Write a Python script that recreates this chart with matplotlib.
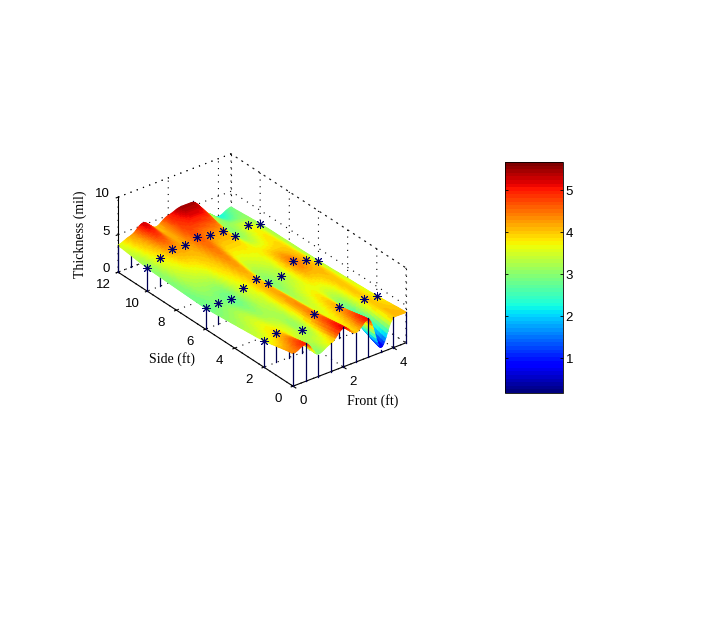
import numpy as np
import matplotlib
matplotlib.use('Agg')
import matplotlib.pyplot as plt
from matplotlib.cm import ScalarMappable
from matplotlib.colors import Normalize

# values
front_ft = [0, 0.5, 1, 1.5, 2, 2.5, 3, 3.5, 4, 4.5]
side_ft = [0, 2, 6, 10, 12]

row_0 = [4.4, 5.1, 2.9, 3.8, 5.3, 3.9, 5.3, 0.3, 4.1, 4.1]
row_2 = [3.5, 3.9, 3.6, 3.0, 4.5, 3.6, 4.2, 2.6, 4.0, 3.7]
row_6 = [2.8, 2.9, 2.7, 3.6, 4.1, 2.9, 3.2, 4.6, 4.1, 3.3]
row_10 = [3.07, 3.76, 4.3, 4.2, 4.65, 4.3, 4.2, 2.9, 3.7, 3.2]
row_12 = [3.6, 4.2, 5.4, 4.0, 5.0, 5.6, 5.6, 3.4, 2.1, 2.9]

# which points of rows 2, 6, 10 show a star (the rest are under the surface)
star_2 = [0, 1, 3, 4, 6, 8, 9]
star_6 = list(range(10))
star_10 = list(range(10))

x_ticks = [0, 2, 4]
y_ticks = [0, 2, 4, 6, 8, 10, 12]
z_ticks = [0, 5, 10]
cbar_ticks = [1, 2, 3, 4, 5]
cbar_min = 0.17
cbar_max = 5.67

dots = (0, (1, 5))
plt.rcParams['grid.linestyle'] = dots
plt.rcParams['grid.color'] = 'k'
plt.rcParams['grid.linewidth'] = 0.8

thick = np.array([row_0, row_2, row_6, row_10, row_12])
fx = np.array(front_ft)
fy = np.array(side_ft)


def soften(a, width):
    # little box filter along the first axis, edges repeated
    pad = np.concatenate([a[:1].repeat(width, 0), a, a[-1:].repeat(width, 0)])
    kern = np.ones(2 * width + 1) / (2 * width + 1)
    return np.apply_along_axis(lambda v: np.convolve(v, kern, 'valid'), 0, pad)


# subdivide between table values only so the facets shade smoothly,
# mplot3d has no "shading interp"
yy = np.linspace(0, 12, 121)
z1 = np.array([np.interp(yy, fy, thick[:, c]) for c in range(10)]).T
z1 = soften(z1, 5)

xx = np.linspace(0, 4.5, 91)
cell = np.minimum((xx / 0.5).astype(int), 8)
t = xx / 0.5 - cell
s = 3 * t**2 - 2 * t**3
Z = z1[:, cell] * (1 - s) + z1[:, cell + 1] * s
Z = soften(Z.T, 2).T
X, Y = np.meshgrid(xx, yy)

fig = plt.figure(figsize=(7.23, 6.23), dpi=100)
ax = fig.add_axes([5.25 / 723, 96.25 / 623, 500 / 723, 500 / 623],
                  projection='3d', proj_type='ortho')
ax.patch.set_alpha(0)
ax.view_init(elev=30, azim=-127.5)
ax.set_box_aspect((142.4, 287.5, 86.6), zoom=0.645)
ax.computed_zorder = False
ax.set_xlim(0, 4.5)
ax.set_ylim(0, 12)
ax.set_zlim(0, 10)

cmap = plt.get_cmap('jet', 64)
norm = Normalize(cbar_min, cbar_max)

# stems behind the surface
for r, yv in enumerate(side_ft):
    for c, xv in enumerate(front_ft):
        zo = 3 if (c == 0 or yv == 0) else 1
        ax.plot([xv, xv], [yv, yv], [0, thick[r, c]], color='#000050', lw=0.9, zorder=zo)

surf = ax.plot_surface(X, Y, Z, cmap=cmap, norm=norm, rstride=1, cstride=1,
                       linewidth=0.9, antialiased=True, shade=False, zorder=2)
surf.set_edgecolor('face')

for r, idx in [(1, star_2), (2, star_6), (3, star_10)]:
    ax.plot(fx[idx], np.full(len(idx), side_ft[r]), thick[r, idx], ls='none',
            marker=(8, 2, 0), ms=6.5, mew=0.7, color='#000070', zorder=4)

# dotted box edges
xm, ym, zm = 4.5, 12, 10
for a, b in [((0, ym, zm), (xm, ym, zm)), ((xm, ym, zm), (xm, 0, zm)),
             ((xm, 0, 0), (xm, 0, zm)), ((xm, ym, 0), (xm, ym, zm)),
             ((0, ym, 0), (xm, ym, 0)), ((xm, ym, 0), (xm, 0, 0))]:
    ax.plot(*zip(a, b), color='k', ls=dots, lw=0.8, zorder=0)

ax.set_xticks(x_ticks)
ax.set_yticks(y_ticks)
ax.set_zticks(z_ticks)
for axis in (ax.xaxis, ax.yaxis, ax.zaxis):
    axis.set_pane_color((1, 1, 1, 0))
    axis.pane.set_edgecolor((1, 1, 1, 0))
    axis.line.set_color('k')
    axis.line.set_linewidth(0.8)
    for lab in axis.get_ticklabels():
        lab.set_visible(False)

# the built-in 3d tick labels can't be nudged, so they go in as text next to the ticks
tick_font = dict(family='Liberation Sans', fontsize=9.5, va='center')
for v in x_ticks:
    ax.text(v, -0.7, -1.1, str(v), ha='center', **tick_font)
for v in y_ticks:
    ax.text(-0.6, v, -1.0, str(v), ha='center', **tick_font)
for v in z_ticks:
    ax.text(0, 12.55, v - 0.3, str(v), ha='right', **tick_font)

fig.text(80 / 723, 1 - 234 / 623, 'Thickness (mil)', rotation=90, family='Liberation Serif',
         fontsize=10, ha='center', va='center')
fig.text(172 / 723, 1 - 359 / 623, 'Side (ft)', family='Liberation Serif',
         fontsize=10, ha='center', va='center')
fig.text(373 / 723, 1 - 401 / 623, 'Front (ft)', family='Liberation Serif',
         fontsize=10, ha='center', va='center')

cax = fig.add_axes([505 / 723, 1 - 393 / 623, 58 / 723, 231 / 623])
cb = fig.colorbar(ScalarMappable(norm=norm, cmap=cmap), cax=cax)
cb.set_ticks(cbar_ticks)
cb.ax.tick_params(direction='in', length=2, width=0.6, left=True, right=True, labelsize=9.5, pad=2)
cb.outline.set_linewidth(0.6)
for lab in cb.ax.get_yticklabels():
    lab.set_family('Liberation Sans')

fig.savefig('out.png', dpi=100)
